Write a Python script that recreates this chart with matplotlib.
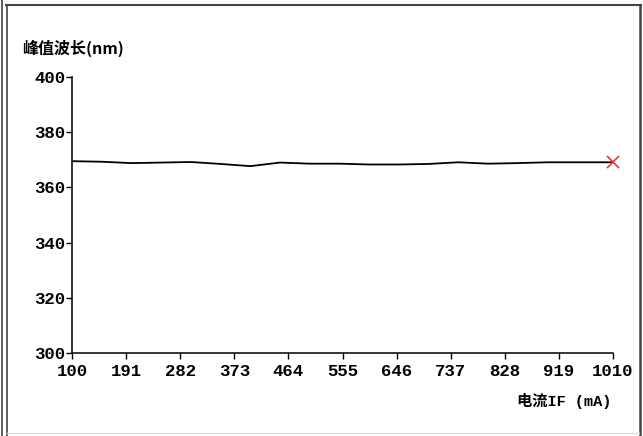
import matplotlib
matplotlib.use("Agg")
import matplotlib.pyplot as plt
from matplotlib.lines import Line2D

plt.rcParams["font.family"] = ["Liberation Mono", "Noto Sans CJK SC", "DejaVu Sans"]

# data
current_ma = [100, 150, 200, 250, 300, 350, 400, 450, 500, 550, 600, 650,
              700, 750, 800, 850, 900, 950, 1000, 1010]
peak_nm = [369.5, 369.3, 368.8, 369.0, 369.2, 368.5, 367.7, 369.0, 368.6, 368.6,
           368.3, 368.3, 368.5, 369.1, 368.6, 368.8, 369.1, 369.1, 369.1, 369.1]
xticks = [100, 191, 282, 373, 464, 555, 646, 737, 828, 919, 1010]
yticks = [300, 320, 340, 360, 380, 400]

W, H = 643, 436
fig = plt.figure(figsize=(W / 100, H / 100), dpi=100)
ax = fig.add_axes([72 / W, 1 - 353 / H, 541 / W, 276 / H])

ax.plot(current_ma, peak_nm, color="black", lw=1.3)
ax.plot(current_ma[-1], peak_nm[-1], marker="x", color="#e8343c", ms=8, mew=1.2,
        clip_on=False)

ax.set_xlim(100, 1010)
ax.set_ylim(300, 400)
ax.set_xticks(xticks)
ax.set_yticks(yticks)
ax.tick_params(axis="both", direction="out", length=4, width=1.0, labelsize=12.5)
ax.tick_params(axis="x", pad=4)
ax.tick_params(axis="y", pad=1)
for lbl in ax.get_xticklabels() + ax.get_yticklabels():
    lbl.set_fontweight("bold")
ax.spines["top"].set_visible(False)
ax.spines["right"].set_visible(False)
for s in ("left", "bottom"):
    ax.spines[s].set_linewidth(1.1)

fig.text(22 / W, 1 - 48 / H, "峰值波长(nm)", fontsize=11.5, fontweight="bold",
         family=["Noto Sans CJK SC", "DejaVu Sans"], va="center", ha="left")
fig.text(611 / W, 1 - 401 / H, "电流IF (mA)", fontsize=11, fontweight="bold",
         family=["Liberation Mono", "Noto Sans CJK SC"], va="center", ha="right")


# frame lines around the picture, in pixel coordinates
def frame(x0, y0, x1, y1, color="#444444", lw=1.2):
    fig.add_artist(Line2D([x0 / W, x1 / W], [1 - y0 / H, 1 - y1 / H],
                          transform=fig.transFigure, color=color, lw=lw))


frame(1.5, 0, 1.5, H)
frame(6.5, 5, 6.5, H)
frame(6, 5, 641, 5, lw=1.5)
frame(639.5, 5, 639.5, H, lw=1.8)
frame(6.5, 433, 639, 433, color="#dddddd", lw=1.0)

fig.savefig("out.png", dpi=100)
